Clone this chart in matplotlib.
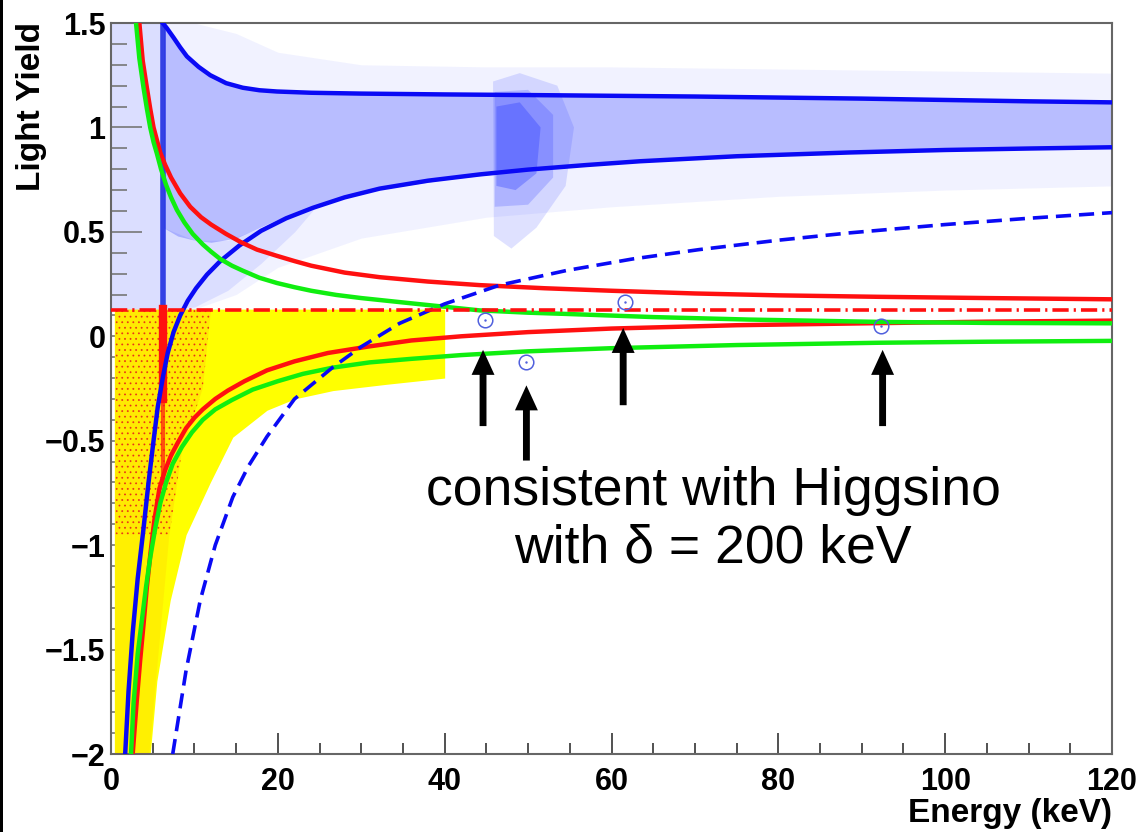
import matplotlib
matplotlib.use("Agg")
import matplotlib.pyplot as plt
from matplotlib.patches import Rectangle, Polygon

# ---------------- data (Energy in keV, Light Yield) ----------------
blue_up_e = [6.2, 6.7, 7.5, 8.3, 9.1, 10.5, 11.9, 13.8, 15.8, 17.8, 19.9, 24, 30, 40, 50, 70, 90, 110, 120]
blue_up_ly = [1.5, 1.475, 1.43, 1.383, 1.34, 1.29, 1.25, 1.212, 1.19, 1.178, 1.172, 1.166, 1.162, 1.158, 1.155, 1.148, 1.138, 1.125, 1.12]

blue_lo_e = [1.7, 2.1, 2.6, 3.2, 3.9, 4.5, 5.1, 5.6, 6.2, 6.8, 7.5, 8.3, 9.2, 10.2, 11.5, 13.1, 15.4, 18, 21,
             24.2, 28, 32.2, 38, 44.2, 50, 57, 63.4, 75, 88.5, 100, 110, 120]
blue_lo_ly = [-2.0, -1.7, -1.42, -1.16, -0.92, -0.7, -0.5, -0.34, -0.2, -0.08, 0.02, 0.1, 0.17, 0.23, 0.295, 0.36,
              0.435, 0.505, 0.565, 0.615, 0.665, 0.707, 0.745, 0.775, 0.798, 0.82, 0.838, 0.862, 0.88, 0.892, 0.899, 0.905]

red_up_e = [3.4, 3.8, 4.3, 4.7, 5.1, 5.5, 5.9, 6.5, 7.2, 8.3, 9.5, 10.8, 12, 13.8, 15.6, 17.5, 19.9, 22, 24, 28,
            32.2, 38, 44.2, 52, 60, 70, 80, 92, 105, 120]
red_up_ly = [1.5, 1.32, 1.19, 1.09, 1.0, 0.94, 0.88, 0.82, 0.76, 0.684, 0.62, 0.57, 0.535, 0.49, 0.45, 0.415,
             0.385, 0.36, 0.338, 0.305, 0.283, 0.262, 0.245, 0.23, 0.218, 0.205, 0.196, 0.189, 0.183, 0.177]

green_up_e = [3.0, 3.4, 3.9, 4.3, 4.7, 5.1, 5.5, 6.0, 6.6, 7.2, 7.9, 8.8, 9.8, 11, 12, 13.1, 14.5, 15.8, 17.8,
              19.9, 22, 24, 27, 30, 36.2, 44.2, 50, 54.6, 65, 76.5, 92, 105, 120]
green_up_ly = [1.5, 1.33, 1.19, 1.09, 1.0, 0.93, 0.875, 0.8, 0.725, 0.665, 0.605, 0.545, 0.49, 0.44, 0.405, 0.37,
               0.338, 0.314, 0.28, 0.255, 0.235, 0.218, 0.198, 0.183, 0.157, 0.124, 0.113, 0.107, 0.092, 0.08,
               0.069, 0.064, 0.062]

red_lo_e = [2.6, 3.1, 3.5, 3.9, 4.3, 4.7, 5.2, 5.8, 6.5, 7.2, 8.0, 9.0, 10, 11, 12.5, 14, 16, 18.7, 22, 26,
            30.7, 36, 42, 50, 60, 75, 92, 105, 120]
red_lo_ly = [-2.0, -1.74, -1.55, -1.38, -1.2, -1.05, -0.88, -0.73, -0.64, -0.57, -0.51, -0.44, -0.39, -0.35,
             -0.3, -0.26, -0.215, -0.163, -0.12, -0.08, -0.05, -0.02, 0.0, 0.02, 0.037, 0.053, 0.063, 0.07, 0.075]

green_lo_e = [2.4, 2.7, 3.2, 3.7, 4.2, 4.7, 5.3, 5.9, 6.6, 7.4, 8.5, 9.7, 11, 12.5, 14.5, 17, 20, 23, 26.6, 31,
              36, 42, 50, 60, 75, 92, 105, 120]
green_lo_ly = [-2.0, -1.76, -1.52, -1.36, -1.2, -1.06, -0.92, -0.8, -0.7, -0.61, -0.53, -0.46, -0.4, -0.35,
               -0.305, -0.255, -0.215, -0.18, -0.15, -0.125, -0.108, -0.09, -0.072, -0.057, -0.042, -0.031,
               -0.026, -0.022]

dash_e = [7.4, 9, 10.7, 12.5, 14.6, 16.5, 18.7, 22, 26.6, 30, 34.6, 40, 46.6, 54.6, 62.5, 70.5, 80, 88.5, 100, 110, 120]
dash_ly = [-2.0, -1.6, -1.264, -1.0, -0.77, -0.62, -0.48, -0.3, -0.148, -0.05, 0.062, 0.155, 0.245, 0.315, 0.37,
           0.415, 0.46, 0.495, 0.535, 0.565, 0.592]

threshold_ly = 0.125

# acceptance region (yellow)
accept_e = [0.4, 4.7, 5.5, 7.1, 9, 11.9, 14.6, 18.7, 22, 26.6, 33, 40]
accept_lo = [-2.0, -2.0, -1.65, -1.264, -0.95, -0.70, -0.483, -0.354, -0.30, -0.26, -0.23, -0.20]

# event populations (density envelopes)
halo_e = [0, 10, 15, 20, 30, 45, 60, 80, 100, 120]
halo_lo = [0.13, 0.13, 0.2, 0.33, 0.47, 0.57, 0.62, 0.67, 0.7, 0.72]
halo_hi = [1.5, 1.5, 1.45, 1.36, 1.3, 1.29, 1.29, 1.28, 1.27, 1.26]

lowe_e = [0, 6.2, 6.3, 10, 14, 18, 22, 25]
lowe_lo = [0.13, 0.13, 0.13, 0.14, 0.22, 0.35, 0.5, 0.64]
lowe_hi = [1.5, 1.5, 0.52, 0.46, 0.46, 0.52, 0.58, 0.64]

band_e = [6.3, 8, 10, 12, 15, 20, 25, 30, 40, 50, 60, 80, 100, 120]
band_lo = [0.52, 0.48, 0.46, 0.45, 0.47, 0.56, 0.63, 0.69, 0.75, 0.795, 0.83, 0.87, 0.89, 0.903]
band_hi = [1.5, 1.39, 1.31, 1.25, 1.2, 1.172, 1.165, 1.162, 1.158, 1.155, 1.15, 1.145, 1.132, 1.12]

cluster_outer = [(45.9, 0.48), (45.8, 1.22), (49.0, 1.26), (53.5, 1.2), (55.5, 1.0), (54.5, 0.72), (51.0, 0.52), (48.0, 0.42)]
cluster_mid = [(46.0, 0.62), (46.0, 1.17), (50.0, 1.18), (53.0, 1.06), (53.0, 0.76), (50.0, 0.63)]
cluster_core = [(46.2, 0.72), (46.2, 1.1), (49.0, 1.12), (51.5, 1.0), (51.0, 0.78), (48.5, 0.7)]

line_e = 6.2
red_dense = [(0.5, 0.13), (12.0, 0.13), (11.0, -0.25), (8.5, -0.55), (7.0, -0.95), (0.5, -0.95)]
red_sparse = [(0.5, -0.95), (7.0, -0.95), (4.6, -2.0), (0.5, -2.0)]

# candidate events and markers
cand_e = [44.8, 49.8, 61.6, 92.3]
cand_ly = [0.077, -0.124, 0.163, 0.05]
arrow_e = [44.6, 49.8, 61.4, 92.5]
arrow_tip = [-0.065, -0.235, 0.04, -0.065]
arrow_tail = [-0.43, -0.595, -0.33, -0.43]

xticks = [0, 20, 40, 60, 80, 100, 120]
yticks = [-2, -1.5, -1, -0.5, 0, 0.5, 1, 1.5]
ytick_labels = ["\u22122", "\u22121.5", "\u22121", "\u22120.5", "0", "0.5", "1", "1.5"]

# ---------------- figure ----------------
plt.rcParams['font.family'] = ['Liberation Sans', 'DejaVu Sans']
plt.rcParams['hatch.linewidth'] = 0.6
fig = plt.figure(figsize=(11.44, 8.32), dpi=100)
fig.patch.set_facecolor('white')
fig.patches.append(Rectangle((0, 0), 3 / 1144, 1, transform=fig.transFigure,
                             facecolor='black', edgecolor='none', zorder=0))
ax = fig.add_axes([111 / 1144, 78 / 832, 1001 / 1144, 731 / 832])

BLUE = '#0a0af5'
DOT_BLUE = '#2030ff'
RED = '#ff1010'
GREEN = '#10ee10'

# event clouds
ax.fill_between(halo_e, halo_lo, halo_hi, color=DOT_BLUE, alpha=0.06, lw=0, zorder=1)
ax.fill_between(lowe_e, lowe_lo, lowe_hi, color=DOT_BLUE, alpha=0.10, lw=0, zorder=1)
ax.fill_between(band_e, band_lo, band_hi, color=DOT_BLUE, alpha=0.27, lw=0, zorder=1)
for poly, a in ((cluster_outer, 0.14), (cluster_mid, 0.2), (cluster_core, 0.3)):
    ax.add_patch(Polygon(poly, closed=True, facecolor=DOT_BLUE, alpha=a, lw=0, zorder=1))

# acceptance region
ax.fill_between(accept_e, accept_lo, [threshold_ly + 0.005] * len(accept_e),
                color='#ffff00', lw=0, zorder=2)

# events inside the acceptance region
ax.add_patch(Polygon(red_dense, closed=True, facecolor=(1.0, 0.2, 0.1, 0.10),
                     edgecolor=(0.9, 0.1, 0.1, 0.75), hatch='...', lw=0, zorder=3))
ax.add_patch(Polygon(red_sparse, closed=True, facecolor=(1.0, 0.2, 0.1, 0.07),
                     edgecolor='none', lw=0, zorder=3))

# 5.9 keV calibration line
ax.plot([line_e, line_e], [0.13, 1.5], color='#1525e0', lw=4.0, alpha=0.85, zorder=3)
ax.plot([line_e, line_e], [-0.3, 0.13], color=RED, lw=6.0, zorder=3)
ax.plot([line_e, line_e], [-0.7, -0.3], color=RED, lw=3.0, alpha=0.7, zorder=3)

# bands
lw = 3.2
ax.plot(blue_up_e, blue_up_ly, color=BLUE, lw=lw, zorder=4)
ax.plot(blue_lo_e, blue_lo_ly, color=BLUE, lw=lw, zorder=4)
ax.plot(red_up_e, red_up_ly, color=RED, lw=lw, zorder=4)
ax.plot(red_lo_e, red_lo_ly, color=RED, lw=lw, zorder=4)
ax.plot(green_up_e, green_up_ly, color=GREEN, lw=lw, zorder=4)
ax.plot(green_lo_e, green_lo_ly, color=GREEN, lw=lw, zorder=4)
ax.plot(dash_e, dash_ly, color=BLUE, lw=2.6, dashes=(4.2, 2.2), zorder=4)
ax.plot([0, 120], [threshold_ly, threshold_ly], color=RED, lw=2.6,
        dashes=(4.5, 1.4, 0.6, 1.4), zorder=4)

# candidates
ax.plot(cand_e, cand_ly, 'o', ms=10.5, mfc='none', mec='#5060dd', mew=1.1, zorder=5)
ax.plot(cand_e, cand_ly, '.', ms=1.5, color='#5060dd', zorder=5)

for xe, tip, tail in zip(arrow_e, arrow_tip, arrow_tail):
    ax.annotate('', xy=(xe, tip), xytext=(xe, tail),
                arrowprops=dict(arrowstyle='simple,head_length=1.2,head_width=1.1,tail_width=0.33',
                                mutation_scale=15, fc='black', ec='black', lw=0,
                                shrinkA=0, shrinkB=0), zorder=6)

ax.text(72.2, -0.81, 'consistent with Higgsino', ha='center', va='baseline',
        fontsize=38.5, color='black', zorder=6)
ax.text(72.2, -1.085, 'with \u03b4 = 200 keV', ha='center', va='baseline',
        fontsize=38.5, color='black', zorder=6)

# axes
ax.set_xlim(0, 120)
ax.set_ylim(-2, 1.5)
ax.set_xticks(xticks)
ax.set_xticklabels([str(v) for v in xticks])
ax.set_yticks(yticks)
ax.set_yticklabels(ytick_labels)
ax.set_xticks([v for v in range(0, 121, 5) if v % 20], minor=True)
ax.set_yticks([round(-2 + 0.1 * i, 1) for i in range(36) if (i % 5)], minor=True)
ax.tick_params(axis='x', which='major', direction='in', length=15, width=1.2,
               color='#333333', pad=9, labelsize=22)
ax.tick_params(axis='x', which='minor', direction='in', length=8, width=1.2, color='#333333')
ax.tick_params(axis='y', which='major', direction='in', length=22, width=1.2,
               color='#777777', pad=4, labelsize=22)
ax.tick_params(axis='y', which='minor', direction='in', length=11.5, width=1.2, color='#777777')
for lab in ax.get_xticklabels() + ax.get_yticklabels():
    lab.set_fontweight('bold')
for s in ax.spines.values():
    s.set_color('#666666')
    s.set_linewidth(1.5)

fig.text(1112 / 1144, 10 / 832, 'Energy (keV)', ha='right', va='baseline',
         fontsize=24, fontweight='bold')
fig.text(32 / 1144, (832 - 22) / 832, 'Light Yield', ha='center', va='top',
         rotation=90, fontsize=24, fontweight='bold')

fig.savefig('out.png', dpi=100, facecolor='white')
